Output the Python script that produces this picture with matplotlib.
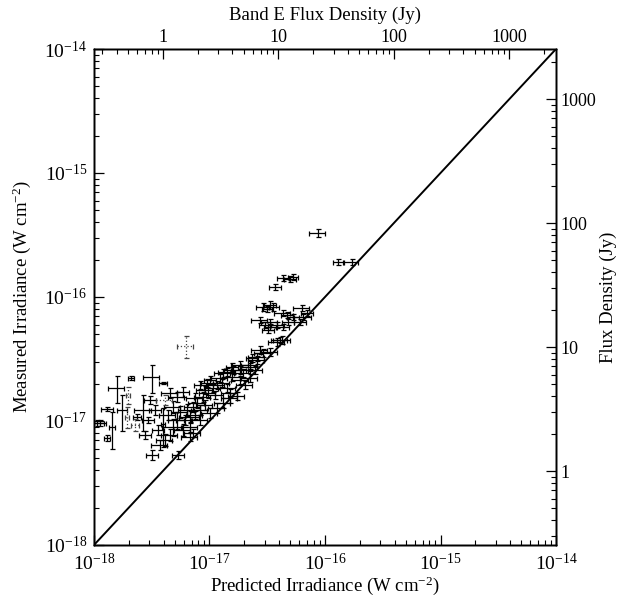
import matplotlib
matplotlib.use('Agg')
import matplotlib.pyplot as plt
import numpy as np
from matplotlib.ticker import LogLocator, FixedLocator, FuncFormatter, NullFormatter, LogFormatterMathtext

plt.rcParams['font.family'] = ['Liberation Serif', 'DejaVu Serif']
plt.rcParams['mathtext.fontset'] = 'custom'
plt.rcParams['mathtext.rm'] = 'Liberation Serif'
plt.rcParams['mathtext.it'] = 'Liberation Serif:italic'
plt.rcParams['mathtext.bf'] = 'Liberation Serif:bold'

UNIT = 1e-18          # W cm^-2, unit of the arrays below
JY = 3.95e-18         # W cm^-2 per Jy (band E)

# Predicted irradiance (units of 1e-18 W cm^-2)
pred = [1.06, 1.30, 1.43, 1.58, 1.75, 1.93, 2.09, 3.18, 3.96, 2.66, 2.94, 3.96, 6.26,
        1.13, 1.30, 2.36, 1.97,
        4.55, 5.23, 5.90, 4.83, 5.55, 6.38, 7.20, 7.80, 8.27, 6.78, 5.23, 4.83, 5.90, 4.55,
        6.78, 8.79, 9.70, 10.7, 11.6, 12.8, 14.2, 15.0, 17.3, 9.51, 10.1, 8.27, 13.1, 14.2,
        16.0, 19.5, 22.4, 25.8, 29.0, 27.4, 33.4, 38.4, 42.5, 6.78, 8.27, 10.1, 11.6, 13.1,
        15.0, 7.20, 5.34, 3.18, 3.73, 4.12, 18.4, 20.3, 22.4, 24.8, 18.4, 15.7, 11.2, 9.14,
        7.49, 25.8, 22.4, 18.4, 15.7, 23.3,
        3.05, 3.37, 3.58, 2.77, 2.26, 4.12, 4.37, 6.14, 7.49, 9.14, 12.3,
        86.9, 130, 171, 43.3, 49.8, 52.8, 36.9, 29.0, 33.4, 35.5, 31.5, 43.3, 63.2, 64.6,
        27.4, 33.4, 38.4, 46.9, 52.8, 33.4, 30.3, 32.1, 40.8, 47.9, 43.3, 60.8, 69.8]

# Measured irradiance (units of 1e-18 W cm^-2)
meas = [9.64, 12.5, 8.95, 18.5, 12.3, 10.8, 22.2, 22.6, 20.2, 12.3, 10.2, 9.46, 40.3,
        9.64, 7.29, 10.8, 16.2,
        16.8, 15.6, 17.1, 13.0, 11.8, 12.3, 13.0, 14.0, 12.3, 10.8, 10.2, 8.95, 8.46, 7.71,
        7.43, 15.6, 16.8, 18.5, 19.5, 20.2, 18.5, 16.8, 16.0, 20.2, 21.4, 19.5, 24.4, 24.8,
        25.8, 24.4, 28.3, 32.8, 35.3, 37.4, 36.0, 43.4, 45.0, 8.95, 10.2, 11.6, 12.7, 14.0,
        15.3, 8.00, 5.32, 5.32, 6.40, 7.03, 21.4, 19.5, 22.2, 25.8, 28.3, 22.6, 16.2, 13.5,
        15.3, 31.0, 27.2, 25.8, 27.2, 32.2,
        14.8, 12.3, 8.46, 7.71, 9.29, 14.8, 11.2, 10.2, 11.2, 17.8, 22.2,
        328, 191, 191, 142, 140, 145, 120, 83.0, 86.2, 83.0, 80.0, 74.3, 81.5, 69.0,
        65.3, 62.9, 59.5, 71.6, 69.0, 57.3, 59.5, 54.2, 45.0, 62.9, 57.3, 62.9, 74.3]

# Relative (1-sigma) uncertainties
pred_rel = [0.16, 0.12, 0.06, 0.16, 0.10, 0.04, 0.06, 0.16, 0.08, 0.16, 0.12, 0.04, 0.16,
            0.12, 0.06, 0.08, 0.04,
            0.16, 0.16, 0.12, 0.16, 0.16, 0.16, 0.16, 0.16, 0.16, 0.20, 0.16, 0.20, 0.16, 0.16,
            0.16, 0.16, 0.16, 0.16, 0.16, 0.16, 0.16, 0.16, 0.16, 0.12, 0.12, 0.12, 0.16, 0.16,
            0.16, 0.16, 0.16, 0.16, 0.16, 0.16, 0.16, 0.16, 0.16, 0.16, 0.16, 0.16, 0.16, 0.16,
            0.16, 0.16, 0.12, 0.12, 0.16, 0.16, 0.16, 0.16, 0.16, 0.16, 0.16, 0.16, 0.16, 0.16,
            0.16, 0.16, 0.16, 0.16, 0.12, 0.12,
            0.12, 0.12, 0.12, 0.12, 0.08, 0.16, 0.16, 0.16, 0.16, 0.16, 0.16,
            0.16, 0.10, 0.14, 0.12, 0.12, 0.10, 0.12, 0.12, 0.12, 0.12, 0.10, 0.16, 0.16, 0.16,
            0.16, 0.16, 0.16, 0.12, 0.12, 0.12, 0.12, 0.12, 0.16, 0.12, 0.12, 0.12, 0.12]
meas_rel = [0.056, 0.04, 0.33, 0.24, 0.32, 0.19, 0.04, 0.26, 0.02, 0.32, 0.056, 0.35, 0.20,
            0.056, 0.056, 0.056, 0.15,
            0.093, 0.093, 0.093, 0.11, 0.11, 0.11, 0.093, 0.093, 0.093, 0.11, 0.15, 0.15, 0.11, 0.11,
            0.074, 0.093, 0.093, 0.074, 0.074, 0.074, 0.074, 0.074, 0.074, 0.074, 0.074, 0.074, 0.074, 0.074,
            0.074, 0.074, 0.074, 0.074, 0.074, 0.074, 0.074, 0.074, 0.074, 0.093, 0.093, 0.093, 0.093, 0.093,
            0.093, 0.074, 0.074, 0.093, 0.093, 0.11, 0.074, 0.074, 0.074, 0.074, 0.074, 0.074, 0.074, 0.093,
            0.093, 0.074, 0.074, 0.074, 0.074, 0.074,
            0.074, 0.093, 0.093, 0.074, 0.11, 0.093, 0.093, 0.093, 0.074, 0.074, 0.074,
            0.074, 0.056, 0.056, 0.056, 0.056, 0.056, 0.056, 0.074, 0.074, 0.074, 0.056, 0.056, 0.056, 0.056,
            0.056, 0.056, 0.056, 0.056, 0.056, 0.056, 0.056, 0.056, 0.056, 0.056, 0.056, 0.056, 0.056]

# Points drawn with faint (dotted) error bars
dotted_idx = [5, 12, 16, 83, 84]

x_ticks = [1e-18, 1e-17, 1e-16, 1e-15, 1e-14]
jy_ticks = [1, 10, 100, 1000]
lims = [1e-18, 1e-14]

x = np.array(pred) * UNIT
y = np.array(meas) * UNIT
xe = x * np.array(pred_rel)
ye = y * np.array(meas_rel)
dot = np.zeros(len(x), bool)
dot[dotted_idx] = True

fig = plt.figure(figsize=(6.22, 6.02), dpi=100)
ax = fig.add_axes([0.1511, 0.0947, 0.7428, 0.8239])
ax.set_xscale('log')
ax.set_yscale('log')
ax.set_xlim(lims)
ax.set_ylim(lims)

ax.plot(lims, lims, color='black', lw=1.4, zorder=3)

sol = ~dot
ax.errorbar(x[sol], y[sol], xerr=xe[sol], yerr=ye[sol], fmt='none', ecolor='black',
            elinewidth=0.9, capsize=1.8, capthick=0.9, zorder=2)
eb = ax.errorbar(x[dot], y[dot], xerr=xe[dot], yerr=ye[dot], fmt='none', ecolor='#444444',
                 elinewidth=0.9, capsize=1.8, capthick=0.9, zorder=2)
for lc in eb[2]:
    lc.set_linestyle(':')

ax.xaxis.set_major_locator(FixedLocator(x_ticks))
ax.yaxis.set_major_locator(FixedLocator(x_ticks))
ax.xaxis.set_minor_locator(LogLocator(base=10, subs=np.arange(2, 10), numticks=20))
ax.yaxis.set_minor_locator(LogLocator(base=10, subs=np.arange(2, 10), numticks=20))
ax.xaxis.set_major_formatter(LogFormatterMathtext())
ax.yaxis.set_major_formatter(LogFormatterMathtext())
ax.xaxis.set_minor_formatter(NullFormatter())
ax.yaxis.set_minor_formatter(NullFormatter())
ax.tick_params(which='both', direction='in', top=False, right=False, labelsize=14)
ax.tick_params(which='major', length=7, width=0.9)
ax.tick_params(which='minor', length=3.5, width=0.8)
ax.tick_params(axis='x', which='major', pad=6)
ax.tick_params(axis='y', which='major', pad=5)
ax.set_xlabel('Predicted Irradiance (W cm$^{-2}$)', fontsize=13.5, labelpad=0)
ax.set_ylabel('Measured Irradiance (W cm$^{-2}$)', fontsize=13.5, labelpad=8)

jylim = [lims[0] / JY, lims[1] / JY]
fmt = FuncFormatter(lambda v, p: f'{v:g}')

axt = ax.twiny()
axt.set_xscale('log')
axt.set_xlim(jylim)
axt.xaxis.set_major_locator(FixedLocator(jy_ticks))
axt.xaxis.set_minor_locator(LogLocator(base=10, subs=np.arange(2, 10), numticks=20))
axt.xaxis.set_major_formatter(fmt)
axt.xaxis.set_minor_formatter(NullFormatter())
axt.tick_params(which='both', direction='in', labelsize=13)
axt.tick_params(which='major', length=7, width=0.9, pad=2)
axt.tick_params(which='minor', length=3.5, width=0.8)
axt.set_xlabel('Band E Flux Density (Jy)', fontsize=13.5, labelpad=7)

axr = ax.twinx()
axr.set_yscale('log')
axr.set_ylim(jylim)
axr.yaxis.set_major_locator(FixedLocator(jy_ticks))
axr.yaxis.set_minor_locator(LogLocator(base=10, subs=np.arange(2, 10), numticks=20))
axr.yaxis.set_major_formatter(fmt)
axr.yaxis.set_minor_formatter(NullFormatter())
axr.tick_params(which='both', direction='in', labelsize=13)
axr.tick_params(which='major', length=7, width=0.9, pad=3)
axr.tick_params(which='minor', length=3.5, width=0.8)
axr.set_ylabel('Flux Density (Jy)', fontsize=13.5, labelpad=3)

for a in [ax, axt, axr]:
    for s in a.spines.values():
        s.set_linewidth(1.0)

fig.savefig('out.png', dpi=100)
